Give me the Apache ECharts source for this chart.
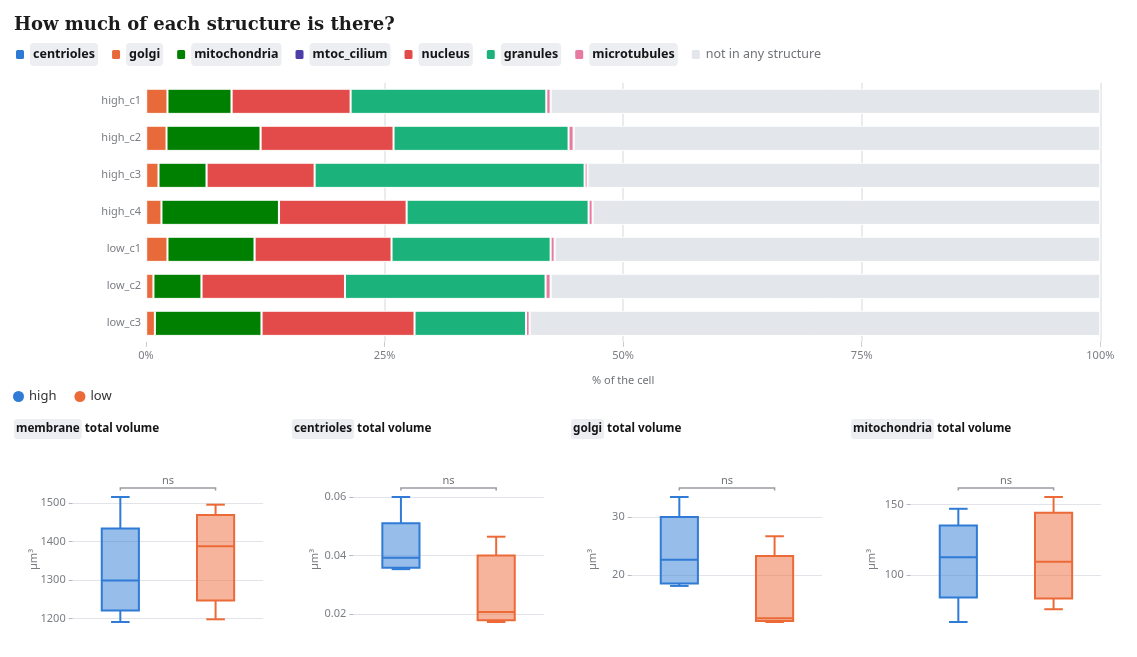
<!DOCTYPE html>
<html><head><meta charset="utf-8">
<script src="https://cdn.jsdelivr.net/npm/echarts@6/dist/echarts.min.js"></script>
<style>html,body{margin:0;padding:0;background:#fff}#c{width:1137px;height:657px}</style>
</head><body><div id="c"></div>
<script>
// ---------- stacked bar data (% of the cell) ----------
const cells = ['high_c1','high_c2','high_c3','high_c4','low_c1','low_c2','low_c3'];
const structures = ['centrioles','golgi','mitochondria','mtoc_cilium','nucleus','granules','microtubules','not in any structure'];
const centrioles   = [0.02, 0.02, 0.02, 0.02, 0.02, 0.02, 0.02];
const golgi        = [2.23, 2.13, 1.29, 1.60, 2.23, 0.76, 0.91];
const mitochondria = [6.71, 9.85, 5.03, 12.31, 9.12, 5.03, 11.17];
const mtoc_cilium  = [0.01, 0.01, 0.01, 0.01, 0.01, 0.01, 0.01];
const nucleus      = [12.47, 13.93, 11.32, 13.37, 14.35, 15.03, 16.03];
const granules     = [20.51, 18.34, 28.29, 19.07, 16.67, 21.02, 11.68];
const microtubules = [0.45, 0.53, 0.31, 0.42, 0.42, 0.53, 0.38];
const notInAny     = [57.60, 55.19, 53.73, 53.20, 57.18, 57.60, 59.80];
const xTicks = [0, 25, 50, 75, 100];

// ---------- box plot data: [min, Q1, median, Q3, max] ----------
const groups = ['high', 'low'];
const panels = ['membrane', 'centrioles', 'golgi', 'mitochondria'];
const membraneHigh = [1191, 1221, 1299, 1434, 1515.6];
const membraneLow  = [1198, 1247, 1387.5, 1469, 1495.6];
const centriolesHigh = [0.0354, 0.0359, 0.0393, 0.0511, 0.0601];
const centriolesLow  = [0.0173, 0.0179, 0.0207, 0.0401, 0.0465];
const golgiHigh = [18.1, 18.5, 22.65, 30.05, 33.5];
const golgiLow  = [11.85, 12.03, 12.5, 23.3, 26.7];
const mitoHigh = [66.4, 83.8, 112.6, 135.2, 147.1];
const mitoLow  = [75.5, 83.1, 109.3, 144.3, 155.5];
const membraneTicks = [1200, 1300, 1400, 1500];
const centriolesTicks = [0.02, 0.04, 0.06];
const golgiTicks = [20, 30];
const mitoTicks = [100, 150];
const significance = ['ns', 'ns', 'ns', 'ns'];

const barValues = [centrioles, golgi, mitochondria, mtoc_cilium, nucleus, granules, microtubules, notInAny];
const boxValues = [[membraneHigh, membraneLow], [centriolesHigh, centriolesLow], [golgiHigh, golgiLow], [mitoHigh, mitoLow]];
const boxTicks = [membraneTicks, centriolesTicks, golgiTicks, mitoTicks];

const FONT = '"Noto Sans", "Open Sans", sans-serif';
const structColors = ['#2e79d6', '#e8693a', '#008000', '#4c3fa9', '#e34b4b', '#1bb27b', '#e77aa0', '#e3e6ea'];
const groupStroke = {high: '#2f7bd6', low: '#ec6a38'};
const groupFill = {high: 'rgba(47,123,214,0.5)', low: 'rgba(236,106,56,0.5)'};

const panelLeft = [72.7, 353.3, 631.7, 910.7];
const panelWidth = 190.5;
const panelTitleLeft = [14, 292, 571, 851];

function boxRender(name) {
  const stroke = groupStroke[name], fill = groupFill[name];
  return function (params, api) {
    const c = api.value(0);
    const p = [1, 2, 3, 4, 5].map(i => api.coord([c, api.value(i)]));
    const cx = p[0][0];
    const bw = api.size([1, 0])[0] * 0.39;
    const cap = bw / 4;
    const ls = {stroke: stroke, lineWidth: 2};
    return {type: 'group', children: [
      {type: 'line', shape: {x1: cx, y1: p[4][1], x2: cx, y2: p[3][1]}, style: ls},
      {type: 'line', shape: {x1: cx, y1: p[1][1], x2: cx, y2: p[0][1]}, style: ls},
      {type: 'line', shape: {x1: cx - cap, y1: p[4][1], x2: cx + cap, y2: p[4][1]}, style: ls},
      {type: 'line', shape: {x1: cx - cap, y1: p[0][1], x2: cx + cap, y2: p[0][1]}, style: ls},
      {type: 'rect', shape: {x: cx - bw / 2, y: p[3][1], width: bw, height: p[1][1] - p[3][1]}, style: {fill: fill, stroke: stroke, lineWidth: 2}},
      {type: 'line', shape: {x1: cx - bw / 2, y1: p[2][1], x2: cx + bw / 2, y2: p[2][1]}, style: ls}
    ]};
  };
}
function bracketRender(params, api) {
  const a = api.coord([api.value(0), api.value(2)]);
  const b = api.coord([api.value(1), api.value(2)]);
  const y = a[1] - 9;
  return {type: 'group', children: [
    {type: 'polyline', shape: {points: [[a[0], y + 2.5], [a[0], y], [b[0], y], [b[0], y + 2.5]]}, style: {stroke: '#9a9ca3', lineWidth: 1.5, fill: null}},
    {type: 'text', style: {text: significance[params.seriesIndex % 4] || 'ns', x: (a[0] + b[0]) / 2, y: y - 2, align: 'center', verticalAlign: 'bottom', fill: '#6f7277', fontSize: 11, fontFamily: FONT}}
  ]};
}

const grids = [{left: 146, right: 36.7, top: 82.8, height: 259, containLabel: false}];
const xAxes = [{
  type: 'value', gridIndex: 0, min: xTicks[0], max: xTicks[xTicks.length - 1], interval: 25,
  name: '% of the cell', nameLocation: 'middle', nameGap: 34,
  nameTextStyle: {color: '#6f7277', fontSize: 11, fontFamily: FONT},
  axisLine: {show: false},
  axisTick: {show: true, length: 5, lineStyle: {color: '#c8cad0'}},
  axisLabel: {formatter: '{value}%', color: '#7a7d83', fontSize: 11, fontFamily: FONT, margin: 9},
  splitLine: {show: true, showMinLine: false, lineStyle: {color: '#e2e4e9', width: 1.5}}
}];
const yAxes = [{
  type: 'category', gridIndex: 0, data: cells, inverse: true,
  axisLine: {show: false}, axisTick: {show: false},
  axisLabel: {color: '#7a7d83', fontSize: 11, fontFamily: FONT, margin: 5}
}];
const series = [];
structures.forEach((s, i) => {
  series.push({
    name: s, type: 'bar', stack: 'cell', xAxisIndex: 0, yAxisIndex: 0,
    barCategoryGap: '32%', data: barValues[i],
    itemStyle: {color: structColors[i], borderColor: '#ffffff', borderWidth: 1},
    emphasis: {disabled: true}
  });
});
const titles = [{
  text: 'How much of each structure is there?', left: 14, top: 16, padding: 0,
  textStyle: {fontFamily: '"DejaVu Serif", serif', fontWeight: 'bold', fontSize: 18, color: '#1b1b1b'}
}];
panels.forEach((p, k) => {
  const gi = k + 1;
  grids.push({left: panelLeft[k], width: panelWidth, top: 497, bottom: 35, containLabel: false});
  xAxes.push({type: 'category', gridIndex: gi, data: groups, show: false});
  yAxes.push({
    type: 'value', gridIndex: gi, min: 'dataMin', max: 'dataMax', scale: true,
    name: 'µm³', nameLocation: 'middle', nameGap: 33, nameMoveOverlap: false,
    nameTextStyle: {color: '#7a7d83', fontSize: 11, fontFamily: FONT},
    axisLine: {show: false},
    axisTick: {show: true, length: 4, lineStyle: {color: '#b5b8be'}, customValues: boxTicks[k]},
    axisLabel: {color: '#7a7d83', fontSize: 11, fontFamily: FONT, margin: 7, customValues: boxTicks[k], formatter: v => String(v)},
    splitLine: {show: true, lineStyle: {color: '#e2e4e9', width: 1}}
  });
  groups.forEach((g, j) => {
    series.push({
      name: g, type: 'custom', xAxisIndex: gi, yAxisIndex: gi, clip: false,
      renderItem: boxRender(g),
      encode: {x: 0, y: [1, 2, 3, 4, 5]},
      data: [[j].concat(boxValues[k][j])],
      itemStyle: {color: groupStroke[g]}
    });
  });
  const hi = Math.max(boxValues[k][0][4], boxValues[k][1][4]);
  series.push({
    name: 'sig_' + p, type: 'custom', xAxisIndex: gi, yAxisIndex: gi, clip: false,
    renderItem: bracketRender, encode: {x: [0, 1], y: 2}, silent: true,
    data: [[0, 1, hi]]
  });
  titles.push({
    text: '{p|' + p + '}{t| total volume}', left: panelTitleLeft[k], top: 419, padding: 0,
    textStyle: {rich: {
      p: {backgroundColor: '#eceef2', borderRadius: 3, padding: [4, 2, 4, 2], fontWeight: 'bold', fontSize: 11.7, color: '#151515', fontFamily: FONT},
      t: {fontWeight: 'bold', fontSize: 11.7, color: '#151515', fontFamily: FONT}
    }}
  });
});

const option = {
  animation: false,
  backgroundColor: '#ffffff',
  title: titles,
  legend: [{
    data: structures, left: 14, top: 43, padding: 0, itemGap: 12,
    icon: 'roundRect', itemWidth: 10, itemHeight: 11, selectedMode: true,
    formatter: n => n === 'not in any structure' ? '{n|' + n + '}' : '{p|' + n + '}',
    textStyle: {fontFamily: FONT, rich: {
      p: {backgroundColor: '#eceef2', borderRadius: 4, padding: [5, 3, 5, 3], fontWeight: 'bold', fontSize: 12.5, color: '#151515', fontFamily: FONT},
      n: {fontSize: 12.5, color: '#6f7277', fontFamily: FONT, padding: [5, 0, 5, 0]}
    }}
  }, {
    data: [{name: 'high', itemStyle: {color: groupStroke.high}}, {name: 'low', itemStyle: {color: groupStroke.low}}],
    left: 13, top: 390, padding: 0, itemGap: 18, icon: 'circle', itemWidth: 11, itemHeight: 11,
    textStyle: {fontFamily: FONT, fontSize: 13, color: '#333'}
  }],
  grid: grids,
  xAxis: xAxes,
  yAxis: yAxes,
  series: series
};
const chart = echarts.init(document.getElementById('c'), null, {renderer: 'canvas'});
chart.setOption(option);
</script>
</body></html>
